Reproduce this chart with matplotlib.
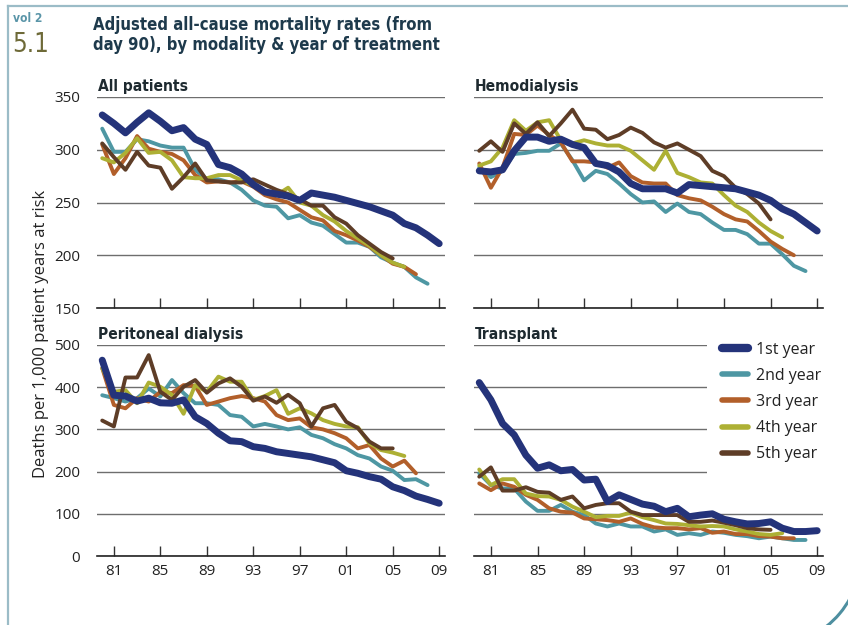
import numpy as np
import matplotlib.pyplot as plt
from matplotlib import font_manager
from matplotlib.font_manager import FontProperties
from matplotlib.lines import Line2D
from matplotlib.patches import Arc

# fonts: look for a narrow face for the headings, humanist sans for the rest
names = {f.name for f in font_manager.fontManager.ttflist}
body_font = 'Open Sans' if 'Open Sans' in names else 'DejaVu Sans'
plt.rcParams['font.family'] = [body_font, 'DejaVu Sans']


def narrow_face(bold):
    for f in font_manager.fontManager.ttflist:
        narrow = ('Narrow' in f.name or 'Condensed' in f.name
                  or str(f.stretch) in ('condensed', 'semi-condensed', 'extra-condensed'))
        w = f.weight if isinstance(f.weight, int) else (700 if 'bold' in str(f.weight) else 400)
        upright = f.style == 'normal'
        if (narrow and upright and ((w >= 600) == bold)
                and 'Mono' not in f.name and 'Serif' not in f.name):
            return FontProperties(fname=f.fname)
    fam = 'Roboto' if 'Roboto' in names else 'DejaVu Sans'
    return FontProperties(family=fam, weight='bold' if bold else 'normal')


head_bold = narrow_face(True)
head_reg = narrow_face(False)

# data: deaths per 1,000 patient years at risk, by incident year
years = np.arange(1980, 2010)
xtick_years = [1981, 1985, 1989, 1993, 1997, 2001, 2005, 2009]
xtick_labels = ['81', '85', '89', '93', '97', '01', '05', '09']
series_names = ['1st year', '2nd year', '3rd year', '4th year', '5th year']

ap1 = [333, 325, 316, 326, 335, 327, 318, 321, 310, 305, 286, 283, 277, 267, 260,
       258, 256, 252, 259, 257, 255, 252, 249, 246, 242, 238, 230, 226, 219, 211]
ap2 = [320, 298, 298, 310, 308, 304, 302, 302, 281, 272, 272, 269, 262, 252, 247,
       246, 235, 238, 231, 228, 220, 212, 212, 208, 198, 193, 189, 179, 173]
ap3 = [305, 277, 292, 313, 301, 298, 296, 290, 276, 269, 270, 269, 270, 265, 257,
       253, 250, 243, 236, 233, 223, 219, 214, 208, 200, 192, 189, 182]
ap4 = [292, 288, 297, 311, 297, 298, 290, 274, 273, 273, 276, 276, 271, 266, 260,
       257, 264, 250, 247, 238, 232, 223, 216, 209, 200, 193, 189]
ap5 = [306, 293, 281, 298, 285, 283, 263, 274, 287, 271, 270, 269, 269, 272, 267,
       262, 258, 253, 247, 247, 236, 230, 219, 211, 203, 197]

hd1 = [280, 279, 281, 299, 312, 312, 308, 310, 305, 302, 287, 285, 279, 268, 263,
       263, 263, 259, 267, 266, 265, 264, 263, 260, 257, 252, 244, 239, 231, 223]
hd2 = [283, 274, 280, 296, 297, 299, 299, 306, 290, 271, 280, 277, 268, 258, 250,
       251, 241, 249, 241, 239, 231, 224, 224, 220, 211, 211, 201, 190, 185]
hd3 = [287, 264, 283, 315, 314, 323, 314, 307, 289, 289, 288, 283, 288, 275, 269,
       268, 268, 257, 254, 252, 246, 239, 234, 232, 223, 213, 206, 200]
hd4 = [285, 289, 302, 328, 318, 326, 328, 309, 306, 309, 306, 304, 304, 299, 290,
       281, 299, 278, 274, 269, 268, 257, 247, 241, 231, 223, 217]
hd5 = [299, 308, 298, 325, 315, 326, 313, 325, 338, 320, 319, 310, 314, 321, 316,
       307, 302, 306, 300, 294, 280, 275, 264, 258, 249, 234]

pd1 = [464, 381, 379, 367, 374, 363, 362, 370, 330, 314, 291, 273, 271, 259, 255,
       247, 243, 239, 235, 228, 221, 202, 196, 188, 182, 164, 155, 142, 134, 125]
pd2 = [381, 374, 366, 374, 397, 378, 417, 386, 362, 362, 358, 334, 330, 307, 313,
       307, 300, 305, 287, 279, 265, 255, 239, 231, 212, 202, 180, 182, 168]
pd3 = [445, 358, 350, 374, 366, 389, 386, 405, 403, 358, 366, 374, 379, 374, 366,
       334, 322, 326, 305, 300, 291, 279, 255, 263, 231, 212, 226, 196]
pd4 = [445, 389, 393, 362, 411, 401, 382, 337, 405, 389, 425, 413, 413, 370, 379,
       393, 337, 350, 338, 322, 313, 307, 305, 267, 251, 245, 237]
pd5 = [321, 307, 423, 423, 476, 389, 370, 401, 417, 387, 409, 421, 401, 368, 378,
       363, 382, 362, 307, 350, 358, 318, 303, 271, 255, 255]

tx1 = [411, 370, 314, 287, 239, 208, 216, 202, 205, 180, 182, 129, 145, 134, 123,
       118, 105, 113, 93, 97, 100, 87, 81, 76, 77, 81, 66, 58, 58, 60]
tx2 = [196, 168, 160, 160, 129, 107, 107, 121, 105, 97, 77, 70, 77, 70, 70,
       58, 63, 50, 54, 50, 58, 55, 50, 47, 42, 46, 42, 38, 38]
tx3 = [172, 156, 172, 164, 145, 133, 113, 105, 103, 89, 87, 85, 81, 89, 76,
       68, 66, 66, 63, 66, 55, 58, 52, 52, 47, 46, 42, 42]
tx4 = [205, 168, 182, 182, 148, 142, 141, 133, 117, 105, 92, 95, 95, 103, 92,
       85, 77, 76, 73, 70, 71, 70, 63, 58, 52, 50, 54]
tx5 = [188, 210, 155, 155, 163, 152, 150, 133, 141, 113, 121, 125, 125, 105, 97,
       97, 97, 97, 81, 81, 84, 79, 73, 66, 63, 62]

colors = ['#24337A', '#4E97A3', '#B25F2A', '#ADB034', '#5E3D27']
widths = [5.0, 2.8, 2.8, 2.8, 2.8]

panels = [
    ('All patients', [ap1, ap2, ap3, ap4, ap5], (150, 350), [150, 200, 250, 300, 350]),
    ('Hemodialysis', [hd1, hd2, hd3, hd4, hd5], (150, 350), [150, 200, 250, 300, 350]),
    ('Peritoneal dialysis', [pd1, pd2, pd3, pd4, pd5], (0, 500), [0, 100, 200, 300, 400, 500]),
    ('Transplant', [tx1, tx2, tx3, tx4, tx5], (0, 500), [0, 100, 200, 300, 400, 500]),
]

W, H = 848, 625
fig = plt.figure(figsize=(W / 100, H / 100), dpi=100)
renderer = fig.canvas.get_renderer()


def fit_width(texts, targets, max_size, grow=1.0):
    # scale font sizes so the widths match the reference, one common size
    sizes = []
    for t, px in zip(texts, targets):
        w = t.get_window_extent(renderer).width
        sizes.append(t.get_fontsize() * px / w)
    s = min(np.mean(sizes) * grow, max_size)
    for t in texts:
        t.set_fontsize(s)


# axes boxes in pixels: left, top, width, height
boxes = [(97, 97, 348, 211), (474, 97, 349, 211),
         (97, 345, 348, 211), (474, 345, 349, 211)]

panel_titles = []
for i, (title, data, ylim, yt) in enumerate(panels):
    l, t, w, h = boxes[i]
    ax = fig.add_axes([l / W, 1 - (t + h) / H, w / W, h / H])
    handles = []
    for k in [1, 2, 3, 4, 0]:
        vals = data[k]
        ln, = ax.plot(years[:len(vals)], vals, color=colors[k], lw=widths[k],
                      solid_capstyle='round', solid_joinstyle='round',
                      zorder=3 + (k == 0))
        handles.append((k, ln))
    ax.set_xlim(1979.55, 2009.5)
    ax.set_ylim(*ylim)
    ax.set_yticks(yt)
    ax.yaxis.grid(True, color='#6E6E6E', lw=1.0)
    ax.set_axisbelow(True)
    for s in ['left', 'right', 'top']:
        ax.spines[s].set_visible(False)
    ax.spines['bottom'].set_color('#222222')
    ax.spines['bottom'].set_linewidth(1.2)
    ax.set_xticks(xtick_years)
    ax.tick_params(axis='x', direction='in', length=7.5, width=1, color='#333333',
                   labelsize=11, pad=6, labelcolor='#222222')
    ax.tick_params(axis='y', length=0, labelsize=11, pad=12, labelcolor='#222222')
    if i < 2:
        ax.set_xticklabels([])
    else:
        ax.set_xticklabels(xtick_labels)
    if i % 2 == 1:
        ax.set_yticklabels([])
    pt = ax.text(0.003, 1.028, title, transform=ax.transAxes, fontproperties=head_bold,
                 fontsize=13, color='#1E2A30', va='baseline', ha='left')
    panel_titles.append(pt)
    if i == 3:
        handles.sort()
        leg = ax.legend([h_ for _, h_ in handles], series_names, loc='upper left',
                        bbox_to_anchor=(0.667, 1.088), frameon=True, fontsize=11.5,
                        handlelength=1.65, handletextpad=0.5, labelspacing=0.64,
                        borderpad=0.95, borderaxespad=0, fancybox=False)
        leg.get_frame().set_facecolor('white')
        leg.get_frame().set_edgecolor('none')
        leg.get_frame().set_alpha(1)
        for k, lh in enumerate(leg.get_lines()):
            lh.set_linewidth(6.0 if k == 0 else 4.0)
            lh.set_solid_capstyle('round')
        for txt in leg.get_texts():
            txt.set_color('#222222')

fit_width(panel_titles, [82, 93, 127, 75], 13.5, grow=1.12)

# y axis label
fig.text(41 / W, 1 - 334 / H, 'Deaths per 1,000 patient years at risk', rotation=90,
         ha='center', va='center', fontsize=12, color='#222222')

# header
vol = fig.text(13 / W, 1 - 21.5 / H, 'vol 2', fontproperties=head_bold,
               fontsize=9.5, color='#5A95A8', ha='left', va='baseline')
fit_width([vol], [27], 10.5, grow=1.1)
num = fig.text(12 / W, 1 - 51.5 / H, '5.1', fontproperties=head_reg, fontsize=24,
               color='#6E6A38', ha='left', va='baseline')
fit_width([num], [33], 24, grow=1.12)
t1 = fig.text(93 / W, 1 - 29.5 / H, 'Adjusted all-cause mortality rates (from',
              fontproperties=head_bold, fontsize=13, color='#1E3A4C',
              ha='left', va='baseline')
t2 = fig.text(93 / W, 1 - 49.5 / H, 'day 90), by modality & year of treatment',
              fontproperties=head_bold, fontsize=13, color='#1E3A4C',
              ha='left', va='baseline')
fit_width([t1, t2], [303, 308], 14.5, grow=1.12)

# page frame and corner curl
frame_c = '#9BBCC7'
fig.add_artist(Line2D([7.5 / W, 7.5 / W], [0, 1 - 6 / H], color=frame_c, lw=1.6,
                      transform=fig.transFigure))
fig.add_artist(Line2D([7.5 / W, 1], [1 - 6 / H, 1 - 6 / H], color=frame_c, lw=1.6,
                      transform=fig.transFigure))
fig.add_artist(Arc((770, 70), 182, 182, theta1=-52, theta2=-28, color='#4E8FA0',
                   lw=2.2, transform=None))

fig.savefig('out.png', dpi=100, facecolor='white')
